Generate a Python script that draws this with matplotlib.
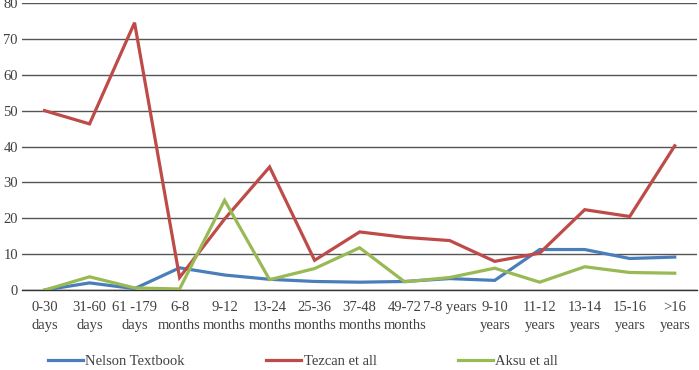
import matplotlib
matplotlib.use("Agg")
import matplotlib.pyplot as plt

categories = ["0-30\ndays", "31-60\ndays", "61 -179\ndays", "6-8\nmonths", "9-12\nmonths",
              "13-24\nmonths", "25-36\nmonths", "37-48\nmonths", "49-72\nmonths", "7-8 years",
              "9-10\nyears", "11-12\nyears", "13-14\nyears", "15-16\nyears", ">16\nyears"]
nelson = [0, 2.0, 0.4, 6.2, 4.2, 3.0, 2.4, 2.2, 2.4, 3.2, 2.7, 11.3, 11.3, 8.8, 9.2]
tezcan = [50, 46.3, 74.5, 3.5, 19.8, 34.3, 8.3, 16.2, 14.7, 13.8, 8.0, 10.3, 22.4, 20.5, 40.2]
aksu = [0, 3.7, 0.6, 0.3, 25.0, 2.9, 6.0, 11.8, 2.3, 3.5, 6.1, 2.2, 6.5, 4.9, 4.7]
series_names = ["Nelson Textbook", "Tezcan et all", "Aksu et all"]
yticks = [0, 10, 20, 30, 40, 50, 60, 70, 80]

plt.rcParams['font.family'] = ['Liberation Serif', 'DejaVu Serif']

fig = plt.figure(figsize=(6.99, 3.70), dpi=100)
ax = fig.add_axes([0.0315, 0.216, 0.966, 0.776])

x = list(range(len(categories)))
colors = ["#4A7EBB", "#BE4B48", "#98B954"]
for vals, name, c in zip([nelson, tezcan, aksu], series_names, colors):
    ax.plot(x, vals, color=c, lw=2.3, label=name, solid_joinstyle='miter', zorder=3)

ax.set_xlim(-0.5, len(categories) - 0.5)
ax.set_ylim(0, 80)
ax.set_yticks(yticks)
ax.yaxis.grid(True, color="#555555", lw=1.0)
ax.set_axisbelow(True)
for s in ["top", "right", "left"]:
    ax.spines[s].set_visible(False)
ax.spines["bottom"].set_color("#333333")
ax.spines["bottom"].set_linewidth(1.0)
ax.set_xticks(x)
ax.set_xticklabels(categories, fontsize=10.5, color="#404040", linespacing=1.45)
ax.tick_params(axis='x', length=0, pad=8)
ax.tick_params(axis='y', length=0, pad=3, labelsize=10.5, labelcolor="#404040")

leg = fig.legend(loc="lower left", bbox_to_anchor=(0.05, -0.03), ncol=3, frameon=False,
                 fontsize=10.5, handlelength=2.4, handletextpad=0.15, columnspacing=5.6)
for t in leg.get_texts():
    t.set_color("#404040")

fig.savefig("out.png", dpi=100)
